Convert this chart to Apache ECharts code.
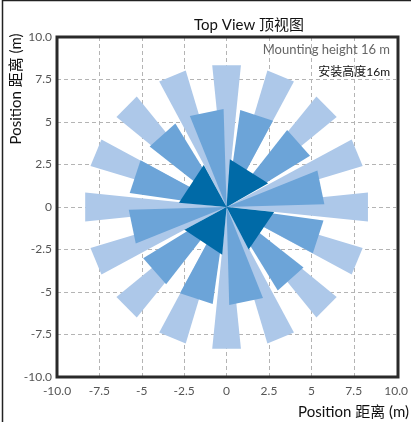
<!DOCTYPE html>
<html>
<head>
<meta charset="utf-8">
<script src="https://cdn.jsdelivr.net/npm/echarts@6/dist/echarts.min.js"></script>
<style>
  html, body { margin: 0; padding: 0; background: #fff; }
  #chart { width: 411px; height: 422px; }
</style>
</head>
<body>
<div id="chart"></div>
<script>
// Tick positions and their printed labels (both axes share them)
const tickValues = [-10, -7.5, -5, -2.5, 0, 2.5, 5, 7.5, 10];
const tickLabels = ['-10.0', '-7.5', '-5', '-2.5', '0', '2.5', '5', '7.5', '10.0'];

// Outer ring of coverage beams: direction (deg), angular span (deg), reach (m)
const outerAngles = [0, 22.5, 45, 67.5, 90, 112.5, 135, 157.5, 180, 202.5, 225, 247.5, 270, 292.5, 315, 337.5];
const outerSpans = [11.6, 11.6, 11.6, 11.6, 11.6, 11.6, 11.6, 11.6, 11.6, 11.6, 11.6, 11.6, 11.6, 11.6, 11.6, 11.6];
const outerReach = [8.38, 8.38, 8.38, 8.38, 8.38, 8.38, 8.38, 8.38, 8.38, 8.38, 8.38, 8.38, 8.38, 8.38, 8.38, 8.38];

// Middle ring
const middleAngles = [11.7, 41.6, 71.8, 101.9, 131.7, 161.7, 191.7, 221.7, 251.7, 281.7, 311.7, 342.0];
const middleSpans = [20.3, 20.3, 20.3, 20.3, 20.3, 20.3, 20.3, 20.3, 20.3, 20.3, 20.3, 20.3];
const middleReach = [5.77, 5.77, 5.77, 5.77, 5.77, 5.77, 5.77, 5.77, 5.77, 5.77, 5.77, 5.77];

// Inner ring
const innerAngles = [57.8, 146.8, 236.5, 325.8];
const innerSpans = [56.5, 56.5, 56.5, 56.5];
const innerReach = [2.82, 2.82, 2.82, 2.82];

const FONT = "Lato, 'Noto Sans CJK SC', sans-serif";

// Plot area placement
const GRID = { left: 57, right: 13, top: 37, bottom: 45 };
const W = 411, H = 422;

// Each row: beam origin x, origin y, direction, span, reach
function beamRows(angles, spans, reach) {
  return angles.map((a, i) => [0, 0, a, spans[i], reach[i]]);
}

// A beam is a triangle from the mounting point out to a flat far edge
function renderBeam(params, api) {
  const ox = api.value(0), oy = api.value(1);
  const dir = api.value(2) * Math.PI / 180;
  const half = api.value(3) * Math.PI / 360;
  const r = api.value(4);
  const p0 = api.coord([ox, oy]);
  const p1 = api.coord([ox + r * Math.cos(dir - half), oy + r * Math.sin(dir - half)]);
  const p2 = api.coord([ox + r * Math.cos(dir + half), oy + r * Math.sin(dir + half)]);
  return {
    type: 'polygon',
    shape: { points: [p0, p1, p2] },
    style: { fill: api.visual('color') }
  };
}

function beamSeries(name, rows, color, z) {
  return {
    name: name,
    type: 'custom',
    coordinateSystem: 'cartesian2d',
    renderItem: renderBeam,
    encode: { x: 0, y: 1 },
    data: rows,
    itemStyle: { color: color },
    z: z,
    silent: true
  };
}

function labelFor(v) {
  const i = tickValues.findIndex(t => Math.abs(t - v) < 1e-6);
  return i >= 0 ? tickLabels[i] : '';
}

function axisCommon() {
  return {
    type: 'value',
    min: -10,
    max: 10,
    interval: 2.5,
    axisLine: { show: false },
    axisTick: { show: false },
    splitLine: {
      show: true,
      showMinLine: false,
      showMaxLine: false,
      lineStyle: { color: '#b4b4b4', type: [4, 3], width: 1 }
    },
    axisLabel: {
      color: '#555',
      fontSize: 12,
      fontFamily: FONT,
      formatter: labelFor
    }
  };
}

const chart = echarts.init(document.getElementById('chart'), null, { renderer: 'canvas' });

const xAxis = axisCommon();
xAxis.axisLabel.margin = 8;
const yAxis = axisCommon();
yAxis.axisLabel.margin = 5;

chart.setOption({
  animation: false,
  backgroundColor: '#fff',
  title: {
    text: 'Top View 顶视图',
    left: 244,
    top: 13,
    textAlign: 'center',
    textStyle: { color: '#111', fontSize: 15, fontWeight: 'normal', fontFamily: FONT }
  },
  grid: {
    left: GRID.left,
    right: GRID.right,
    top: GRID.top,
    bottom: GRID.bottom,
    show: false
  },
  xAxis: xAxis,
  yAxis: yAxis,
  series: [
    beamSeries('outer', beamRows(outerAngles, outerSpans, outerReach), '#adc8e9', 2),
    beamSeries('middle', beamRows(middleAngles, middleSpans, middleReach), '#6ca4d8', 3),
    beamSeries('inner', beamRows(innerAngles, innerSpans, innerReach), '#006aa7', 4)
  ],
  graphic: [
    {
      // page frame
      type: 'rect',
      shape: { x: 2.5, y: 0.5, width: 430, height: 440 },
      style: { fill: 'none', stroke: '#222', lineWidth: 1.5 },
      z: 100
    },
    {
      // plot frame
      type: 'rect',
      shape: {
        x: GRID.left,
        y: GRID.top,
        width: W - GRID.left - GRID.right,
        height: H - GRID.top - GRID.bottom
      },
      style: { fill: 'none', stroke: '#2a2a2a', lineWidth: 3 },
      z: 100
    },
    {
      type: 'text',
      x: 390, y: 50,
      style: {
        text: 'Mounting height 16 m',
        fill: '#666', fontSize: 13, fontFamily: FONT,
        align: 'right', verticalAlign: 'middle'
      },
      z: 100
    },
    {
      type: 'text',
      x: 390, y: 72,
      style: {
        text: '安装高度16m',
        fill: '#111', fontSize: 12, fontFamily: FONT,
        align: 'right', verticalAlign: 'middle'
      },
      z: 100
    },
    {
      type: 'text',
      x: 16, y: 89,
      rotation: Math.PI / 2,
      style: {
        text: 'Position 距离 (m)',
        fill: '#111', fontSize: 15, fontFamily: FONT,
        align: 'center', verticalAlign: 'middle'
      },
      z: 100
    },
    {
      type: 'text',
      x: 409, y: 412,
      style: {
        text: 'Position 距离 (m)',
        fill: '#111', fontSize: 15, fontFamily: FONT,
        align: 'right', verticalAlign: 'middle'
      },
      z: 100
    }
  ]
});
</script>
</body>
</html>
